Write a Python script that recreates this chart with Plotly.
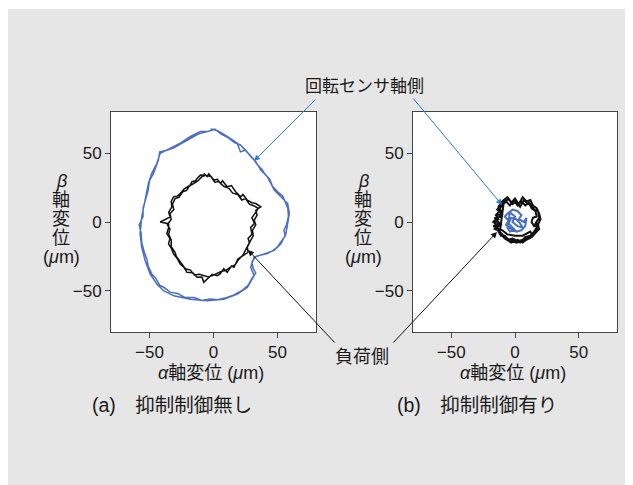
import plotly.graph_objects as go

W, H = 633, 485
OX, OY = 8, 8  # page body margin: screenshot px -> figure px

# ---- data (µm) ----
a_blue_x = [-2.4, 2.9, 10.7, 18.6, 21, 25, 29, 33, 36.9, 42, 44.8, 47.4, 52.6, 57.9, 59.2, 57.9, 56.5, 52.6, 47.4, 39.5, 31.7, 29, 31.7, 26.4, 18.6, 8.1, -5, -18, -31, -39, -44.2, -49.5, -53.4, -56, -57.3, -56, -53.4, -50.8, -48.2, -44.2, -41.6, -33.8, -25.9, -18, -10.2,
            -4, 1, 6, 12, 16, 21, 24, 28, 31, 34, 38, 40, 44, 46, 50, 54, 56, 58, 58.5, 57, 55, 56, 53, 50, 46, 42, 37, 33, 30, 31, 33, 30, 27, 22, 16, 10, 3, -3, -9, -15, -22, -28, -34, -38, -42, -45, -48, -51, -52, -54, -56, -56.5, -58, -55, -55, -53, -51, -50, -47, -45, -43, -42, -37, -31, -27, -22, -17, -12, -8, -4]
a_blue_y = [67.6, 66.6, 62.2, 57.3, 51, 52.4, 47.6, 43.9, 37.8, 32.9, 28, 23.2, 18.3, 13.4, 6.1, -1.2, -8.5, -15.9, -20.7, -23.2, -25.6, -32.9, -39, -47.6, -52.4, -56.1, -57.3, -56.1, -53.7, -50, -45.1, -37.8, -28, -18.3, -8.5, 3.7, 15.9, 28, 35.4, 42.7, 50, 53.7, 57.3, 62.2, 65.9,
            66, 67.5, 64, 61, 58, 56, 53, 49, 46, 42, 38, 35, 31, 26, 22, 19, 15, 10, 4, -2, -6, -10, -14, -18, -21, -23, -24, -25, -29, -34, -37, -41, -46, -50, -53, -55, -56.5, -56, -57, -55, -55, -52, -51, -48, -46, -41, -38, -32, -27, -22, -15, -8, -2, 4, 10, 17, 23, 30, 35, 40, 45, 51, 52, 54, 56, 59, 61, 64, 65, 66]

a_black_x = [-7.6, -5, -3.7, 0.3, 3, 5.5, 7, 10.7, 14, 17.3, 21.2, 23, 26.4, 30, 33, 36.9, 33, 34, 31.7, 33, 30.4, 31, 29, 26.4, 27, 21.2, 19, 16, 14, 10.7, 8, 5, 2.9, -1, -5, -7.6, -9, -12.8, -16, -20.7, -23, -26, -28, -31.2, -33, -35.1, -34, -36.4, -35, -35.1, -41.6, -33.8, -35, -32.5, -33, -31.2, -28, -26, -23, -20.7, -18, -16.8, -14, -12.8, -10.2,
             -6, -2, 1, 4, 8, 12, 15, 19, 22, 25, 28, 31, 35, 32, 30, 32, 29, 30, 27, 28, 25, 23, 19, 17, 13, 10, 6, 3, -1, -4, -8, -11, -15, -18, -22, -25, -29, -30, -33, -33, -35, -34, -36, -33, -34, -31, -32, -30, -27, -24, -21, -19, -15, -12, -9, -6]
a_black_y = [35.4, 33, 35, 30.5, 31, 28, 30, 25.6, 26.5, 22, 18.3, 20, 15.9, 14, 13.4, 11, 8.5, 5, 1.2, -2, -6.1, -10, -13.4, -18.3, -22, -25.6, -27, -32.9, -32, -36.6, -34, -38, -39, -38, -41.5, -43.9, -40, -40.2, -37, -36.6, -33, -30.5, -27, -23.2, -19, -15.9, -12, -8.5, -4, -1.2, 0, 3.7, 7, 11, 15, 18.3, 19, 20.7, 24, 25.6, 27, 29.3, 30, 31.7, 34.1,
             34, 33, 29, 29.5, 26, 24.5, 21, 20, 16, 17, 13, 12, 10, 6, 3, -1, -4, -9, -12, -15, -20, -24, -28, -31, -33, -35, -36, -37.5, -39, -40, -39, -38, -38.5, -35, -34, -30, -25, -22, -18, -13, -9, -5, -2, 2, 6, 9, 13, 17, 18, 22, 23, 26, 28, 30, 33, 34]

b_black_x = [-10, -6, -3, 0, 3, 6, 9, 12, 14, 17, 19, 20, 18, 19, 16, 13, 9, 5, 1, -3, -7, -10, -13, -16, -14, -17, -13, -15, -12, -13, -10,
             -8, -4, -1, 2, 5, 8, 11, 13, 16, 17, 14, 13, 15, 18, 17, 14, 10, 6, 2, -2, -6, -9, -12, -15, -12, -16, -12, -11, -14, -11, -8,
             -9, -5, -2, 1, 4, 7, 10, 13, 15, 18, 19, 16, 17, 15, 12, 8, 4, 0, -4, -8, -11, -13, -14, -17, -13, -15, -14, -10, -12, -9,
             -12, -8, -3, 2, 6, 10, 14, 12, 6, 0, -6, -10, -15, -11, -16, -10]
b_black_y = [15, 18, 14, 17, 13, 18, 15, 16, 12, 10, 6, 2, -2, -5, -8, -11, -13, -14, -15, -13, -12, -9, -6, -5, -2, 0, 2, 5, 8, 11, 15,
             16, 12, 16, 12, 15, 12, 14, 10, 8, 4, 3, 0, -3, -1, -6, -9, -12, -13, -14, -12, -13, -11, -8, -3, -1, 1, 4, 7, 9, 12, 16,
             13, 17, 13, 15, 11, 16, 13, 13, 9, 8, 3, -1, -4, -7, -10, -11, -15, -13, -14, -10, -10, -7, -4, -3, -1, 2, 5, 6, 10, 13,
             -8, -12, -15, -13, -15, -12, -10, -7, -10, -10, -9, -6, -4, -2, 3, 4]

b_blue_x = [-6, -2, 2, 5, 3, 7, 9, 8, 5, 1, -3, -7, -5, -8, -6, -4, 0, -2, 2, 6, 4, 1, -3, -5, -2, 0, -4, -6, -4]
b_blue_y = [6, 9, 8, 5, 2, 0, 3, -3, -6, -7, -5, -2, 1, 4, 6, 7, 4, 0, -3, -4, -1, 2, 3, -1, -4, -6, -7, -4, 7]

tick_vals = [-50, 0, 50]
tick_text = ["\u221250", "0", "50"]
panel_titles = ["(a)\u3000抑制制御無し", "(b)\u3000抑制制御有り"]
x_title = "<i>α</i>軸変位 (<i>μ</i>m)"
y_title_lines = ["<i>β</i>", "軸", "変", "位", "(<i>μ</i>m)"]
label_sensor = "回転センサ軸側"
label_load = "負荷側"

BLUE = "#4a6fc0"
BLACK = "#111111"
FONT = "Liberation Sans, Arial, Noto Sans CJK JP, sans-serif"
CJK = "Liberation Sans, Noto Sans CJK JP, sans-serif"


def X(px):
    return (px - OX) / W


def Y(py):
    return 1 - (py - OY) / H


fig = go.Figure()
fig.add_trace(go.Scatter(x=a_black_x, y=a_black_y, mode="lines", line=dict(color=BLACK, width=1.5), xaxis="x", yaxis="y"))
fig.add_trace(go.Scatter(x=a_blue_x, y=a_blue_y, mode="lines", line=dict(color=BLUE, width=1.5), xaxis="x", yaxis="y"))
fig.add_trace(go.Scatter(x=b_black_x, y=b_black_y, mode="lines", line=dict(color=BLACK, width=2), xaxis="x2", yaxis="y2"))
fig.add_trace(go.Scatter(x=b_blue_x, y=b_blue_y, mode="lines", line=dict(color=BLUE, width=2), xaxis="x2", yaxis="y2"))

axis_common = dict(range=[-80, 80], tickvals=tick_vals, ticktext=tick_text, ticks="outside", ticklen=5,
                   tickcolor="#444", showline=True, linecolor="#444", linewidth=1, mirror=True,
                   showgrid=False, zeroline=False, tickfont=dict(family=FONT, size=17, color="#1a1a1a"),
                   fixedrange=True)

fig.update_layout(
    width=W, height=H,
    margin=dict(l=0, r=0, t=0, b=0),
    paper_bgcolor="#e6e6e6",
    plot_bgcolor="white",
    showlegend=False,
    xaxis=dict(domain=[X(111), X(316)], anchor="y", **axis_common),
    yaxis=dict(domain=[Y(332), Y(112)], anchor="x", **axis_common),
    xaxis2=dict(domain=[X(413), X(617)], anchor="y2", **axis_common),
    yaxis2=dict(domain=[Y(332), Y(112)], anchor="x2", **axis_common),
)

# thin white strip at the very top
fig.add_shape(type="rect", xref="paper", yref="paper", x0=0, x1=1, y0=Y(9), y1=1,
              fillcolor="white", line=dict(width=0), layer="above")

ann = []


def text(px, py, s, size=16, xanchor="center"):
    ann.append(dict(x=X(px), y=Y(py), xref="paper", yref="paper", text=s, showarrow=False,
                    xanchor=xanchor, yanchor="middle", font=dict(family=CJK, size=size, color="#1a1a1a")))


# axis titles
for cx in (211, 513):
    text(cx, 373, x_title, size=18)
for cx in (61, 363):
    for s, py in zip(y_title_lines, [181, 200, 219, 238, 257]):
        text(cx, py, s, size=18)

# panel titles
text(172, 405, panel_titles[0], size=19.5)
text(477, 405, panel_titles[1], size=19.5)

# labels
text(364, 87, label_sensor, size=17)
text(362, 357, label_load, size=18)


def arrow(hx, hy, tx, ty, color):
    ann.append(dict(x=X(hx), y=Y(hy), xref="paper", yref="paper", ax=tx - hx, ay=ty - hy,
                    axref="pixel", ayref="pixel", text="", showarrow=True, arrowhead=2,
                    arrowsize=1.2, arrowwidth=1, arrowcolor=color, standoff=0, startstandoff=0))


arrow(254, 161, 317, 98, "#2f7ccc")
arrow(502, 205, 412, 97, "#2f7ccc")
arrow(248, 250, 336, 344, "#111")
arrow(497, 232, 392, 344, "#111")

fig.update_layout(annotations=ann)
fig.write_html("out.html")
